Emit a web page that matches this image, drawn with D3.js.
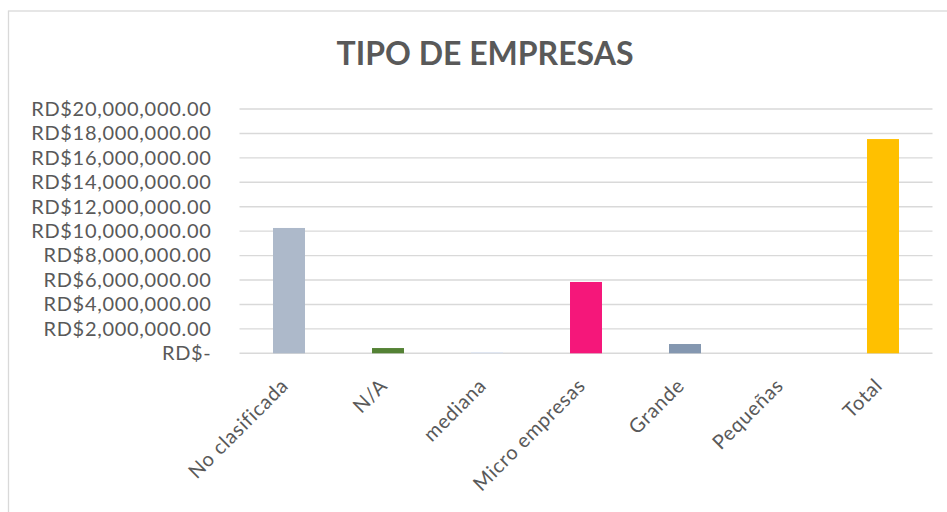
<!DOCTYPE html>
<html>
<head>
<meta charset="utf-8">
<script src="https://cdn.jsdelivr.net/npm/d3@7"></script>
<style>
  body { margin: 0; background: #fff; }
  svg { display: block; font-family: Lato, sans-serif; }
</style>
</head>
<body>
<svg id="chart" width="947" height="512"></svg>
<script>
// data
const categories = ['No clasificada', 'N/A', 'mediana', 'Micro empresas', 'Grande', 'Pequeñas', 'Total'];
const values = [10260000, 430000, 80000, 5840000, 760000, 0, 17540000];
const barColors = ['#adb9ca', '#548235', '#dae3f3', '#f5177a', '#8497b0', '#a9d18e', '#ffc000'];
const yTicks = [0, 2e6, 4e6, 6e6, 8e6, 10e6, 12e6, 14e6, 16e6, 18e6, 20e6];

const svg = d3.select('#chart');
const margin = {top: 109, right: 14.5, bottom: 158.7, left: 239.5};
const width = 947 - margin.left - margin.right;
const height = 512 - margin.top - margin.bottom;

// chart border (only left/top visible in the shot)
svg.append('rect')
    .attr('x', 8.5).attr('y', 11)
    .attr('width', 960).attr('height', 520)
    .attr('fill', 'none')
    .attr('stroke', '#d9d9d9')
    .attr('stroke-width', 1.3);

svg.append('text')
    .attr('x', 485)
    .attr('y', 65)
    .attr('text-anchor', 'middle')
    .attr('fill', '#595959')
    .attr('font-size', 32)
    .attr('font-weight', 'bold')
    .text('TIPO DE EMPRESAS');

const g = svg.append('g')
    .attr('transform', 'translate(' + margin.left + ',' + margin.top + ')');

const x = d3.scaleBand()
    .domain(categories)
    .range([0, width])
    .paddingInner(0.677)
    .paddingOuter(0.3385);

const y = d3.scaleLinear()
    .domain([0, 20e6])
    .range([height, 0]);

const fmt = d => d === 0 ? 'RD$-' : 'RD$' + d3.format(',.2f')(d);

// gridlines
g.append('g')
    .selectAll('line')
    .data(yTicks)
    .join('line')
    .attr('x1', 0).attr('x2', width)
    .attr('y1', d => y(d)).attr('y2', d => y(d))
    .attr('stroke', '#d9d9d9')
    .attr('stroke-width', 1.4);

// y labels
const yAxis = g.append('g')
    .call(d3.axisLeft(y).tickValues(yTicks).tickFormat(fmt).tickSize(0).tickPadding(28));
yAxis.select('.domain').remove();
yAxis.selectAll('text')
    .attr('fill', '#595959')
    .attr('font-size', 20)
    .attr('letter-spacing', 0.7)
    .attr('font-family', 'Lato, sans-serif');

// bars
g.selectAll('.bar')
    .data(values)
    .join('rect')
    .attr('class', 'bar')
    .attr('x', (d, i) => x(categories[i]))
    .attr('width', x.bandwidth())
    .attr('y', d => y(d))
    .attr('height', d => height - y(d))
    .attr('fill', (d, i) => barColors[i]);

// x labels, rotated
const xAxis = g.append('g')
    .attr('transform', 'translate(0,' + height + ')')
    .call(d3.axisBottom(x).tickSize(0).tickPadding(0));
xAxis.select('.domain').remove();
xAxis.selectAll('text')
    .attr('fill', '#595959')
    .attr('font-size', 20)
    .attr('letter-spacing', 0.7)
    .attr('font-family', 'Lato, sans-serif')
    .attr('text-anchor', 'end')
    .attr('dy', '0.75em')
    .attr('transform', 'translate(-10,23) rotate(-45)');
</script>
</body>
</html>
